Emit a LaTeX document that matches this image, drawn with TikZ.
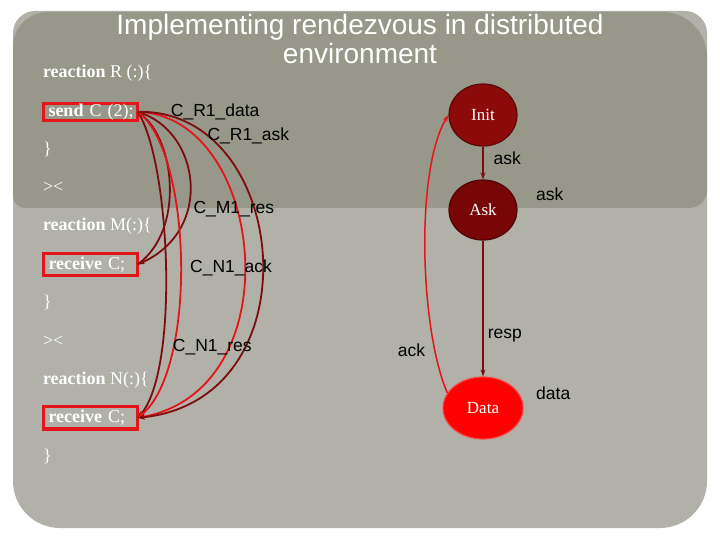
\documentclass[tikz,border=0pt]{standalone}
\usepackage{fontspec}
\setmainfont{Liberation Sans}
\newfontfamily\codefont{Liberation Serif}
\usetikzlibrary{arrows.meta,positioning,shapes.geometric}
\definecolor{panelcol}{RGB}{151,151,138}
\definecolor{slidecol}{RGB}{177,177,169}
\definecolor{darkarc}{RGB}{125,12,12}
\definecolor{redarc}{RGB}{228,20,25}
\definecolor{initcol}{RGB}{140,10,10}
\definecolor{askcol}{RGB}{120,6,6}
\definecolor{datacol}{RGB}{255,0,0}

\begin{document}
\begin{tikzpicture}[x=1pt,y=-1pt,>=Stealth,
  codeline/.style={font=\codefont\fontsize{18}{20}\selectfont,text=white,inner sep=0pt,outer sep=0pt,anchor=base west},
  codebox/.style={codeline,draw=redarc,line width=3.3pt,text width=84pt,inner xsep=5.2pt,inner ysep=0pt},
  lbl/.style={font=\fontsize{17.5}{20}\selectfont,inner sep=0pt,anchor=base west},
  statenode/.style={ellipse,line width=1.2pt,text=white,font=\codefont\fontsize{17}{20}\selectfont,
    minimum width=68pt,minimum height=62pt,inner sep=0pt},
  dk/.style={darkarc,line width=1.8pt},
  rd/.style={redarc,line width=1.8pt},
  arr/.style={-{Stealth[length=7pt,width=5pt]}}]
  \useasboundingbox (0,0) rectangle (720,540);
  % slide background and title panel
  \fill[slidecol] (13,270) [rounded corners=22pt] |- (360,11) -| (707,270)
     [rounded corners=47pt] |- (360,528) -| (13,270);
  \fill[panelcol] (13,110) [rounded corners=35pt] |- (360,12) [rounded corners=45pt] -| (707,110)
     [rounded corners=18pt] |- (360,208) [rounded corners=12pt] -| (13,110);
  \node[font=\fontsize{28}{29}\selectfont,text=white,anchor=base,inner sep=0pt] (title) at (360,34.3)
     {Implementing rendezvous in distributed};
  \node[font=\fontsize{28}{29}\selectfont,text=white,anchor=base,inner sep=0pt] (title2) at (360,63.5)
     {environment};
  % code of the three reactions
  \node[codeline] (reacR) at (43,77.5) {\textbf{reaction} R (:)\{};
  \node[codebox,minimum height=16.7pt] (send) at (43.3,116.2) {\mbox{\textbf{send} C (2);}};
  \node[codeline] (endR) at (43,154.2) {\}};
  \node[codeline] (parR) at (43,192.5) {{>}{<}};
  \node[codeline] (reacM) at (43,230.9) {\textbf{reaction} M(:)\{};
  \node[codebox,minimum height=22.4pt] (recvM) at (43.3,269.3) {\mbox{\textbf{receive} C;}};
  \node[codeline] (endM) at (43,307.6) {\}};
  \node[codeline] (parM) at (43,346) {{>}{<}};
  \node[codeline] (reacN) at (43,384.3) {\textbf{reaction} N(:)\{};
  \node[codebox,minimum height=22.4pt] (recvN) at (43.3,422.7) {\mbox{\textbf{receive} C;}};
  \node[codeline] (endN) at (43,461) {\}};
  % channels between the reactions
  \draw[dk,arr] (send.east) .. controls (200,130) and (215,230) .. (recvM.east);
  \draw[dk,arr] (recvM.east) .. controls (185,230) and (175,140) .. (send.east);
  \draw[dk,arr] (send.east) .. controls (170,160) and (180,370) .. (recvN.east);
  \draw[rd,arr] (send.east) .. controls (192,150) and (198,370) .. (recvN.east);
  \draw[rd,arr] (send.east) .. controls (265,115) and (295,390) .. (recvN.east);
  \draw[dk,arr] (send.east) .. controls (290,108) and (318,400) .. (recvN.east);
  \node[lbl] (cR1data) at (170.7,117) {C\_R1\_data};
  \node[lbl] (cR1ask) at (207.3,140.7) {C\_R1\_ask};
  \node[lbl] (cM1res) at (193.3,213.3) {C\_M1\_res};
  \node[lbl] (cN1ack) at (190,272.7) {C\_N1\_ack};
  \node[lbl] (cN1res) at (172.7,351.7) {C\_N1\_res};
  % channel states
  \node[statenode,fill=initcol,draw=initcol!65!black] (init) at (483,115) {Init};
  \node[statenode,fill=askcol,draw=askcol!65!black,minimum height=60pt] (ask) at (483,210) {Ask};
  \node[statenode,fill=datacol,draw=red!75!white,minimum width=80pt] (data) at (483,408) {Data};
  \draw[darkarc,line width=2pt,arr] (init) -- (ask);
  \draw[darkarc,line width=2pt,arr] (ask) -- (data);
  \draw[rd,line width=1.5pt,arr] (data.157) .. controls (420,330) and (415,170) .. (init.west);
  \node[lbl] (askA) at (493.5,165) {ask};
  \node[lbl] (askB) at (536,201) {ask};
  \node[lbl] (resp) at (487.7,338) {resp};
  \node[lbl] (ack) at (397.7,356.7) {ack};
  \node[lbl] (dataL) at (536,399) {data};
\end{tikzpicture}
\end{document}
